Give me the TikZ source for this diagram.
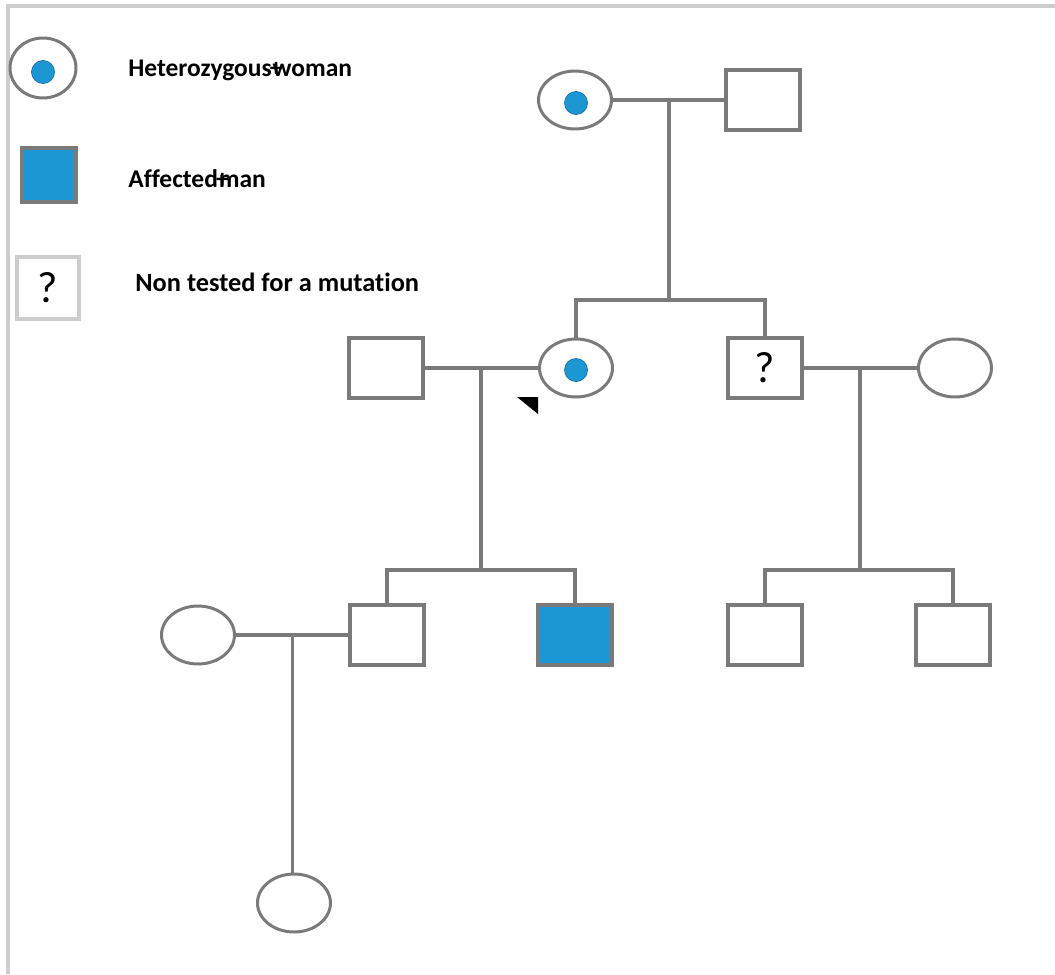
\documentclass[tikz,border=0pt]{standalone}
\usepackage{fontspec}
\setmainfont{Carlito}[Ligatures={NoCommon}]
\usetikzlibrary{shapes.geometric,calc}
\definecolor{pedgray}{RGB}{122,122,122}
\definecolor{carrier}{RGB}{29,150,212}
\definecolor{framegray}{RGB}{205,205,205}
\tikzset{
  male/.style={draw=pedgray, line width=1.8pt, minimum width=1.48cm, minimum height=1.2cm, inner sep=0pt},
  female/.style={ellipse, draw=pedgray, line width=1.7pt, minimum width=1.46cm, minimum height=1.16cm, inner sep=0pt},
  cdot/.style={circle, fill=carrier, draw=carrier!75!black, line width=0.4pt, minimum size=0.46cm, inner sep=0pt},
  link/.style={pedgray, line width=1.8pt},
  keytext/.style={anchor=west, inner sep=0pt, font=\fontsize{14.5}{16}\selectfont\bfseries},
}

\begin{document}
\begin{tikzpicture}[x=0.02cm, y=-0.02cm]
\useasboundingbox (0,0) rectangle (1055,974);
\draw[framegray, line width=2.2pt] (8,974) -- (8,6) -- (1055,6);

% key
\node[female, minimum width=1.32cm, minimum height=1.2cm] (keyF) at (43,68) {};
\node[cdot] (keyFdot) at (43,72) {};
\node[male, fill=carrier, minimum width=1.08cm, minimum height=1.08cm] (keyM) at (49,175) {};
\node[male, draw=framegray, line width=2.4pt, minimum width=1.24cm, minimum height=1.24cm,
      font=\fontsize{25}{27}\selectfont] (keyQ) at (48,288) {?};
\node[keytext] (keyFtxt) at (128,70) {Heterozygous\kern0.5pt\rlap{\kern-1.5pt+}woman};
\node[keytext] (keyMtxt) at (128,179) {Affected\kern0.5pt\rlap{\kern-1.5pt+}man};
\node[keytext, font=\fontsize{15}{17}\selectfont\bfseries] (keyQtxt) at (135,282) {Non tested for a mutation};

% generation I
\node[female] (I1) at (575,100) {};
\node[cdot] (I1dot) at (576,103) {};
\node[male] (I2) at (763,100) {};

% generation II
\node[male] (II1) at (386,368) {};
\node[female] (II2) at (576,368) {};
\node[cdot] (II2dot) at (576,370) {};
\node[male, font=\fontsize{25}{27}\selectfont] (II3) at (765,368) {?};
\node[female] (II4) at (955,368) {};

% generation III
\node[female] (III0) at (198,635) {};
\node[male] (III1) at (387,635) {};
\node[male, fill=carrier] (III2) at (575,635) {};
\node[male] (III3) at (765,635) {};
\node[male] (III4) at (953,635) {};

% generation IV
\node[female] (IV1) at (294,903) {};

% marriages and descent
\draw[link] (I1) -- (I2);
\draw[link] (II1) -- (II2);
\draw[link] (II3) -- (II4);
\draw[link] (III0) -- (III1);
\coordinate (u1) at ($(I1)!0.5!(I2)$);
\coordinate (u2) at ($(II1)!0.5!(II2)$);
\coordinate (u3) at ($(II3)!0.5!(II4)$);
\coordinate (u4) at ($(III0)!0.5!(III1)$);
\draw[link] (u1) -- ++(0,200) coordinate (s1);
\draw[link] (II2.north) |- (s1) -| (II3.north);
\draw[link] (u2) -- ++(0,202) coordinate (s2);
\draw[link] (III1.north) |- (s2) -| (III2.north);
\draw[link] (u3) -- ++(0,202) coordinate (s3);
\draw[link] (III3.north) |- (s3) -| (III4.north);
\draw[link] (u4) -- (u4 |- IV1.north);

% proband
\fill (517,397) -- (538,397) -- (538,414) -- cycle;
\end{tikzpicture}
\end{document}
